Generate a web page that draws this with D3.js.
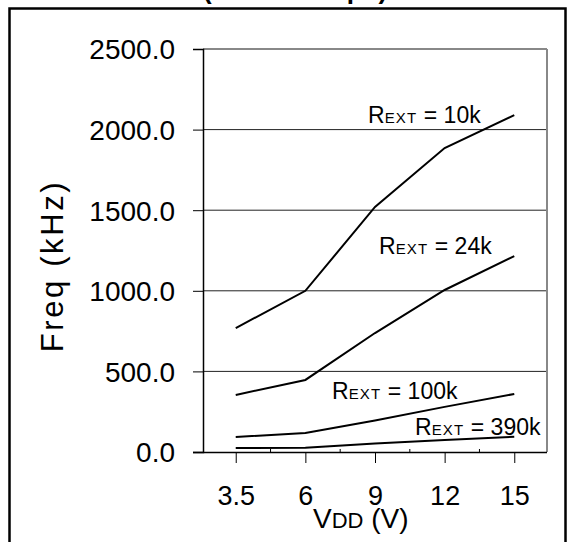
<!DOCTYPE html>
<html><head><meta charset="utf-8">
<script src="https://cdn.jsdelivr.net/npm/d3@7"></script>
<style>body{margin:0;background:#fff}svg{display:block}text{font-family:"Liberation Sans",Arial,sans-serif;fill:#000}</style>
</head><body>
<svg id="c" width="574" height="542"></svg>
<script>
const categories = ["3.5", "6", "9", "12", "15"];
const r10k  = [769, 1000, 1520, 1886, 2090];
const r24k  = [354, 447, 738, 1005, 1215];
const r100k = [93, 118, 195, 280, 360];
const r390k = [25, 26, 52, 74, 95];
const seriesLabels = ["10k", "24k", "100k", "390k"];
const yTicks = [0, 500, 1000, 1500, 2000, 2500];

const svg = d3.select("#c");
const L = 203, R = 547, T = 49, B = 452;
const x = d3.scalePoint().domain(categories).range([L, R]).padding(0.47);
const y = d3.scaleLinear().domain([0, 2500]).range([B, T]);

// outer frame
svg.append("rect").attr("x", 9.5).attr("y", 8.5).attr("width", 556).attr("height", 560)
  .attr("fill", "none").attr("stroke", "#000").attr("stroke-width", 2.5);

// title (only bottom of descenders visible)
svg.append("text").attr("x", 203).attr("y", -1.5).attr("font-size", 26).attr("font-weight", "bold")
  .text("(CEXT = 20 pF)");

// gridlines
svg.append("g").selectAll("line").data(yTicks.filter(d => d > 0)).join("line")
  .attr("x1", L).attr("x2", R).attr("y1", d => y(d)).attr("y2", d => y(d))
  .attr("stroke", d => d === 2500 ? "#888" : "#222").attr("stroke-width", d => d === 2500 ? 2 : 1);
// right border
svg.append("line").attr("x1", R).attr("x2", R).attr("y1", T).attr("y2", B)
  .attr("stroke", "#888").attr("stroke-width", 2);

// y axis
const ya = svg.append("g").attr("transform", `translate(${L},0)`)
  .call(d3.axisLeft(y).tickValues(yTicks).tickSize(10).tickPadding(18).tickFormat(d3.format(".1f")));
ya.select(".domain").attr("stroke", "#000").attr("stroke-width", 1.5);
ya.selectAll(".tick line").attr("stroke", "#000");
ya.selectAll(".tick text").attr("font-size", 28).attr("font-family", "Liberation Sans, Arial, sans-serif")
  .attr("fill", "#000").attr("dy", "0.35em");

// x axis
const xa = svg.append("g").attr("transform", `translate(0,${B})`)
  .call(d3.axisBottom(x).tickSize(11).tickPadding(0).tickSizeOuter(0));
xa.select(".domain").attr("d", `M${L - 10},0.5H${R}`).attr("stroke", "#000").attr("stroke-width", 1.5);
xa.selectAll(".tick line").attr("stroke", "#000");
xa.selectAll(".tick text").attr("font-size", 27).attr("font-family", "Liberation Sans, Arial, sans-serif")
  .attr("fill", "#000").attr("dy", null).attr("y", 53);
// minor ticks between categories
const step = x.step();
xa.append("g").selectAll("line").data(categories.slice(0, -1)).join("line")
  .attr("x1", d => x(d) + step / 2).attr("x2", d => x(d) + step / 2)
  .attr("y1", 0).attr("y2", -3).attr("stroke", "#000");

// lines
const line = d3.line().x((d, i) => x(categories[i])).y(d => y(d));
const allSeries = [r10k, r24k, r100k, r390k];
svg.append("g").selectAll("path").data(allSeries).join("path")
  .attr("d", d => line(d)).attr("fill", "none").attr("stroke", "#000").attr("stroke-width", 2);

// series labels
const labelPos = [[368, 123], [379, 254], [332, 399], [415, 435]];
seriesLabels.forEach((s, i) => {
  const t = svg.append("text").attr("x", labelPos[i][0]).attr("y", labelPos[i][1]).attr("font-size", 23);
  t.append("tspan").text("R");
  t.append("tspan").attr("font-size", 15).attr("letter-spacing", 1.2).text("EXT");
  t.append("tspan").text(" = " + s);
});

// axis titles
svg.append("text").attr("transform", "translate(63,266) rotate(-90)").attr("text-anchor", "middle")
  .attr("font-size", 31).attr("letter-spacing", 2.6).text("Freq (kHz)");
const xt = svg.append("text").attr("x", 313).attr("y", 528).attr("font-size", 28);
xt.append("tspan").text("V");
xt.append("tspan").attr("font-size", 22).text("DD");
xt.append("tspan").text(" (V)");
</script>
</body></html>
